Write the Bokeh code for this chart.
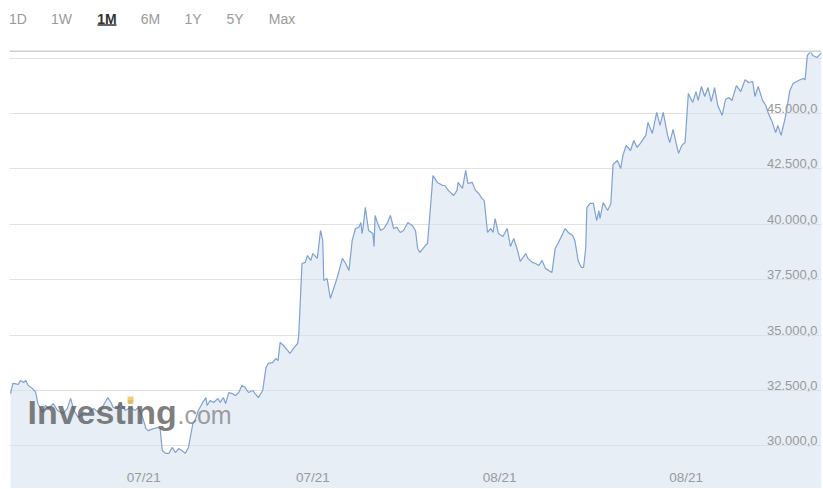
from bokeh.plotting import figure
from bokeh.models import Range1d, FixedTicker, Label, ColumnDataSource, BoxAnnotation
from bokeh.layouts import column
from bokeh.core.properties import value
from bokeh.embed import file_html
from bokeh.resources import INLINE

# ---- data (hours since start of the 1-month window, price) ----
hours = [1, 3, 5, 8, 10, 13, 15, 17, 21, 24, 26, 27, 30, 33, 36, 40, 44, 49, 53, 56,
         59, 63, 68, 72, 77, 82, 86, 90, 93, 95, 99, 102, 106, 111, 115, 118, 122, 125, 127, 132,
         136, 138, 140, 143, 146, 149, 152, 155, 158, 161, 164, 168, 170, 173, 177, 180, 181, 184, 187, 191,
         193, 196, 198, 201, 204, 207, 210, 213, 216, 219, 223, 225, 228, 232, 235, 237, 241, 244, 246, 248,
         251, 255, 257, 260, 264, 265, 268, 271, 273, 276, 278, 282, 285, 287, 288, 291, 294, 297, 300, 305,
         308, 311, 314, 317, 320, 322, 323, 324, 326, 329, 333, 334, 335, 337, 340, 343, 346, 349, 352, 355,
         358, 361, 365, 369, 372, 374, 376, 381, 383, 386, 388, 392, 397, 399, 402, 407, 410, 411, 415, 418,
         420, 424, 427, 430, 433, 435, 438, 441, 443, 445, 448, 452, 456, 459, 462, 465, 468, 473, 475, 479,
         482, 485, 488, 491, 494, 497, 500, 503, 507, 509, 512, 516, 518, 521, 524, 526, 528, 529, 532, 535,
         538, 540, 541, 544, 548, 551, 553, 557, 560, 562, 565, 569, 572, 575, 578, 583, 585, 589, 593, 596,
         599, 603, 605, 608, 612, 613, 616, 619, 622, 626, 629, 631, 634, 637, 640, 643, 646, 649, 653, 656,
         659, 662, 666, 670, 674, 677, 681, 683, 686, 690, 693, 695, 699, 702, 704, 707, 711, 715, 718, 723,
         727, 729, 731, 734, 736, 740, 744]
prices = [32360, 32820, 32810, 32770, 32950, 32860, 32950, 32730, 32590, 32420, 31910, 31820, 31520, 31820, 31690, 31910, 31600, 31460, 31690, 32140,
          31600, 31280, 31510, 31460, 31690, 31510, 31820, 32180, 31960, 31730, 31690, 31910, 31600, 31730, 31600, 31730, 31280, 30780, 30690, 30780,
          30830, 30780, 29790, 29660, 29660, 29930, 29700, 29880, 29790, 29660, 29930, 31010, 31150, 31600, 31960, 32180, 31820, 32050, 31960, 32140,
          31960, 32180, 31910, 32410, 32360, 32270, 32410, 32730, 32630, 32410, 32500, 32360, 32180, 32500, 33540, 33720, 33760, 33940, 33850, 34670,
          34530, 34300, 34170, 34390, 34620, 34980, 38230, 38280, 38590, 38370, 38680, 38460, 39720, 39270, 37460, 37550, 36650, 37100, 37550, 38460,
          38230, 37910, 39270, 39810, 39860, 40080, 39580, 39860, 40760, 39720, 39580, 39000, 40400, 40080, 39720, 39810, 40040, 40400, 39810, 39860,
          39630, 39720, 40080, 39950, 39720, 38910, 38730, 39040, 39130, 40940, 42200, 41890, 41750, 41750, 41530, 41300, 41530, 41890, 41620, 42430,
          41840, 41890, 41530, 41390, 41160, 41070, 39630, 39810, 39630, 40260, 39580, 39450, 39810, 39000, 39360, 38910, 38320, 38680, 38460, 38280,
          38230, 38140, 38370, 38010, 37920, 37820, 38910, 39180, 39580, 39810, 39630, 39490, 39270, 38370, 38050, 38050, 38950, 40760, 40940, 40940,
          40170, 40620, 40260, 40980, 40620, 40940, 42700, 42880, 42520, 43100, 43560, 43330, 43780, 43470, 43650, 44010, 44590, 44100, 45050, 44460,
          45050, 44010, 43690, 44280, 43420, 43200, 43560, 43690, 45900, 45500, 45990, 45590, 46220, 45770, 46170, 45540, 46170, 45360, 44910, 45630,
          45720, 45590, 46260, 45990, 46530, 46400, 46440, 45770, 46220, 45590, 45360, 45050, 44590, 44140, 44460, 44010, 44860, 46040, 46350, 46490,
          46580, 46530, 47620, 47800, 47620, 47530, 47750]
assert len(hours) == len(prices)

grid_ticks = [30000, 32500, 35000, 37500, 40000, 42500, 45000, 47500]
y_label_ticks = [30000, 32500, 35000, 37500, 40000, 42500, 45000]
y_labels = ["30.000,0", "32.500,0", "35.000,0", "37.500,0", "40.000,0", "42.500,0", "45.000,0"]
x_label_ticks = [123, 278, 449, 620]
x_labels = ["07/21", "07/21", "08/21", "08/21"]
buttons = ["1D", "1W", "1M", "6M", "1Y", "5Y", "Max"]

X_START, X_END = 0, 744
Y_MIN, Y_MAX = 28076, 47753

FONT = "Liberation Sans"
LABEL_COLOR = "#9a9a9a"

# ---- top bar with range buttons (frame aligned with the chart frame) ----
top = figure(width=823, height=52, x_range=Range1d(9, 821), y_range=Range1d(52, 0),
             output_backend="svg", toolbar_location=None,
             x_axis_location=None, y_axis_location=None,
             min_border_left=9, min_border_right=2, min_border_top=0, min_border_bottom=0)
top.grid.visible = False
top.outline_line_color = None
btn_x = [17.5, 61, 106.5, 150, 192.5, 234.5, 281.5]
btn_colors = ["#9a9a9a"] * len(buttons)
btn_colors[2] = "#333333"
btn_styles = ["normal"] * len(buttons)
btn_styles[2] = "bold"
top.text(x=btn_x, y=[18] * len(buttons), text=buttons, text_align="center",
         text_baseline="middle", text_font=value(FONT), text_font_size="14px",
         text_color=btn_colors, text_font_style=btn_styles)
top.segment(x0=[97], y0=[24.5], x1=[116], y1=[24.5], line_color="#333333", line_width=1.6)
top.segment(x0=[9], y0=[51], x1=[821], y1=[51], line_color="#d0d0d0", line_width=2)

# ---- main chart ----
src = ColumnDataSource(dict(h=hours, v=prices))
p = figure(width=823, height=436, x_range=Range1d(X_START, X_END), y_range=Range1d(Y_MIN, Y_MAX),
           output_backend="svg", toolbar_location=None,
           x_axis_location=None, y_axis_location=None,
           min_border_left=9, min_border_right=2, min_border_top=0, min_border_bottom=0)
p.outline_line_color = None
p.xgrid.visible = False
p.ygrid.ticker = FixedTicker(ticks=grid_ticks)
p.ygrid.grid_line_color = "#e2e2e2"
p.ygrid.grid_line_width = 1

p.varea(x="h", y1=Y_MIN, y2="v", source=src, fill_color="#d4e0ec", fill_alpha=0.55)
p.line(x="h", y="v", source=src, line_color="#7ea1d6", line_width=1.2)

p.text(x=[X_END] * len(y_label_ticks), y=y_label_ticks, text=y_labels,
       text_align="right", text_baseline="middle", x_offset=-4, y_offset=-5,
       text_font=value(FONT), text_font_size="13px", text_color=LABEL_COLOR)
p.text(x=x_label_ticks, y=[Y_MIN] * len(x_label_ticks), text=x_labels,
       text_align="center", text_baseline="middle", y_offset=-11,
       text_font=value(FONT), text_font_size="13.5px", text_color=LABEL_COLOR)

# watermark
p.add_layout(Label(x=18, y=77, x_units="screen", y_units="screen", text="Investing",
                   text_font=FONT, text_font_size="34px", text_font_style="bold",
                   text_color="#555555", text_alpha=0.75, text_baseline="middle"))
p.add_layout(Label(x=168, y=74, x_units="screen", y_units="screen", text=".com",
                   text_font=FONT, text_font_size="25px",
                   text_color="#808080", text_alpha=0.75, text_baseline="middle"))
p.add_layout(BoxAnnotation(left=118, right=124, bottom=85, top=92,
                           left_units="screen", right_units="screen",
                           bottom_units="screen", top_units="screen",
                           fill_color="#f3c463", fill_alpha=0.85, line_color=None))

layout = column(top, p, spacing=0)
open("out.html", "w").write(file_html(layout, INLINE))
